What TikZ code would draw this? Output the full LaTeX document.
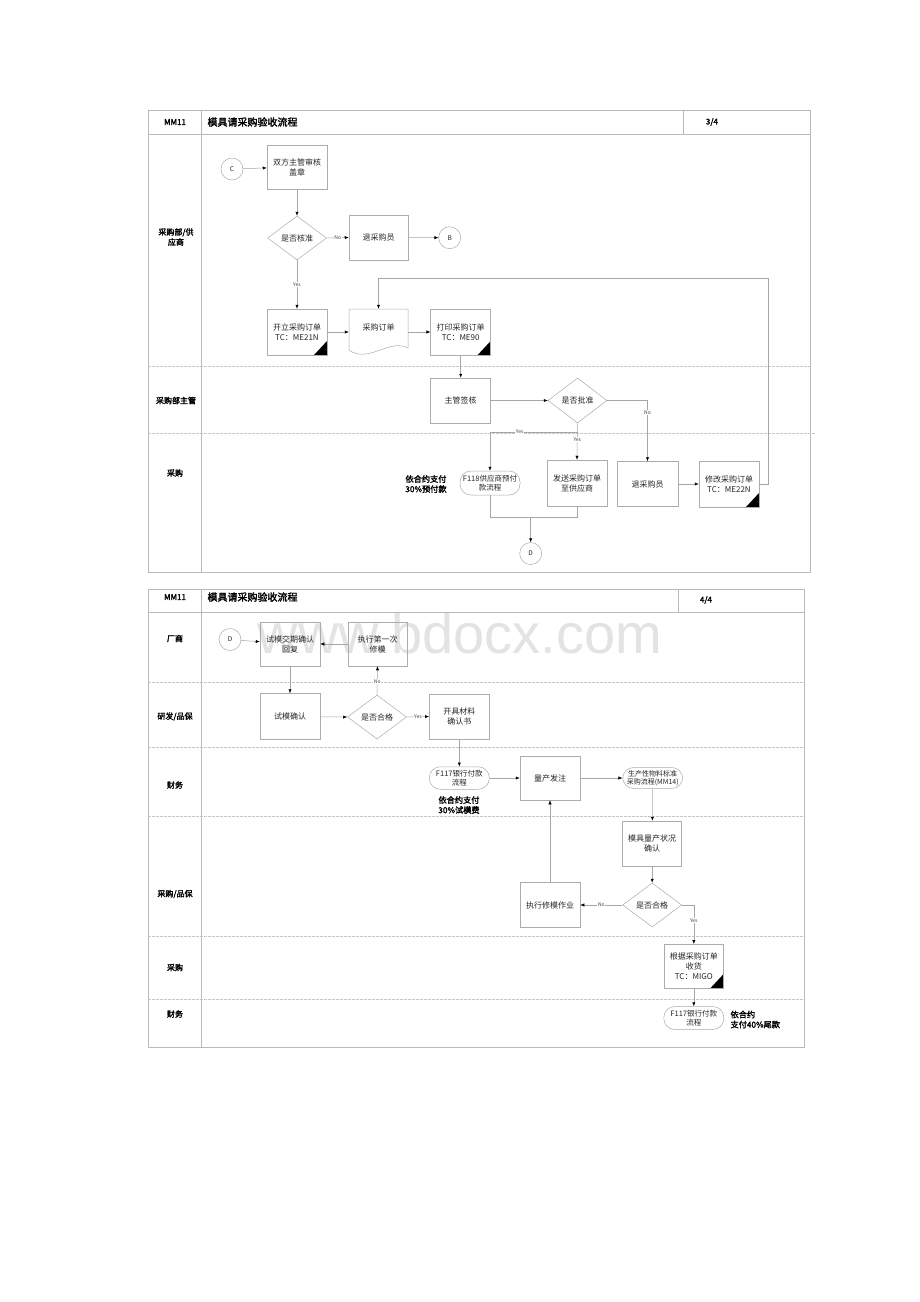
\documentclass[tikz,border=0pt]{standalone}
\usepackage{fontspec}
\newfontfamily\cjk{Noto Sans CJK SC}[AutoFakeBold=2]
\newfontfamily\wmfont{Liberation Sans}
\usetikzlibrary{arrows.meta,shapes.geometric}
\begin{document}
\begin{tikzpicture}[x=1pt,y=-1pt,
  frame/.style={draw=gray!55, line width=0.6pt},
  lane/.style={draw=gray!45, line width=0.6pt, dash pattern=on 3pt off 1pt},
  proc/.style={draw=gray!65, line width=0.5pt, minimum width=60pt, minimum height=44pt, inner sep=1pt, align=center, font=\cjk\fontsize{8}{10}\selectfont, text=black!85},
  sap/.style={path picture={\fill[black] (path picture bounding box.south east) -- ++(-13,0) -- ++(13,-14) -- cycle;}},
  dec/.style={diamond, aspect=1, draw=gray!65, line width=0.5pt, minimum width=59pt, minimum height=44pt, inner sep=0pt, font=\cjk\fontsize{8}{10}\selectfont, text=black!85},
  term/.style={rectangle, rounded corners=11pt, draw=gray!65, line width=0.5pt, minimum width=60pt, minimum height=23pt, inner sep=0.5pt, align=center, font=\cjk\fontsize{7.5}{9}\selectfont, text=black!85},
  conn/.style={circle, draw=gray!65, line width=0.5pt, minimum size=22pt, inner sep=0pt, font=\cjk\fontsize{6.5}{8}\selectfont, text=black!85},
  docnode/.style={minimum width=59pt, minimum height=46pt, inner sep=0pt},
  doctext/.style={font=\cjk\fontsize{8}{10}\selectfont, text=black!85},
  arr/.style={draw=gray!70, line width=0.5pt, -{Latex[length=4pt,width=3.2pt,color=black]}},
  ln/.style={draw=gray!70, line width=0.5pt},
  lab/.style={font=\cjk\fontsize{5}{6}\selectfont, fill=white, inner sep=0.6pt, text=black!75},
  lanelab/.style={font=\cjk\bfseries\fontsize{8}{10}\selectfont, align=center},
  headlab/.style={font=\cjk\bfseries\fontsize{8}{10}\selectfont},
  titlelab/.style={font=\cjk\bfseries\fontsize{10}{12}\selectfont, anchor=west},
  note/.style={font=\cjk\bfseries\fontsize{8.2}{10}\selectfont, align=center},
  wm/.style={font=\wmfont\fontsize{56}{60}\selectfont, text=gray!22, anchor=base}
]
\path[use as bounding box, fill=white] (0,0) rectangle (920,1302);

% watermark
\node[wm] (wmark) at (460,653) {www.bdocx.com};

% ================= top page frame =================
\draw[frame] (148,110) rectangle (810,572);
\draw[frame] (148,134) -- (810,134);
\draw[frame] (201,110) -- (201,572);
\draw[frame] (683,110) -- (683,134);
\draw[lane] (148,366) -- (810,366);
\draw[lane] (148,433) -- (815,433);

\node[headlab] (h1) at (175,122) {MM11};
\node[titlelab] (t1h) at (204,122) {模具请采购验收流程};
\node[headlab] (p1) at (712,122) {3/4};

\node[lanelab] (l1) at (176,237) {采购部/供\\应商};
\node[lanelab] (l2) at (176,400.5) {采购部主管};
\node[lanelab] (l3) at (175,473) {采购};

% nodes
\node[conn] (C) at (232,169) {C};
\node[proc] (b1) at (297,167) {双方主管审核\\盖章};
\node[dec] (d1) at (297,238) {是否核准};
\node[proc, minimum width=59pt, minimum height=45pt] (b2) at (378.5,237.5) {退采购员};
\node[conn] (B) at (449.7,237.7) {B};
\node[proc, sap, minimum height=46pt] (b3) at (297,332) {开立采购订单\\TC：ME21N};
\node[docnode] (doc) at (378.5,332) {};
\draw[draw=gray!65, line width=0.5pt] (349,350) -- (349,309) -- (408,309) -- (408,348)
   .. controls (390,338) and (368,364) .. (349,350);
\node[doctext] (doct) at (378.5,327) {采购订单};
\node[proc, sap, minimum height=46pt] (b4) at (460.7,332) {打印采购订单\\TC：ME90};
\node[proc, minimum height=45pt] (b5) at (460.7,400.5) {主管签核};
\node[dec, minimum height=45pt] (d2) at (577.5,400.5) {是否批准};
\node[term, minimum height=24pt] (f1) at (490,483) {F118供应商预付\\款流程};
\node[proc, minimum height=46pt] (b6) at (577,483) {发送采购订单\\至供应商};
\node[proc, minimum width=61pt, minimum height=45pt] (b7) at (647.5,484) {退采购员};
\node[proc, sap, minimum height=46pt] (b8) at (729,484) {修改采购订单\\TC：ME22N};
\node[conn] (D) at (530.7,553.5) {D};
\node[note] (n1) at (426,484) {依合约支付\\30\%预付款};

\coordinate (ret1) at (768,278);
\coordinate (split) at (577.5,432);
\coordinate (mergeL) at (490,517);
\coordinate (mergeR) at (577,517);
\coordinate (mergeM) at (530.7,517);

% connectors
\draw[arr] (C) -- (b1);
\draw[arr] (b1) -- (d1);
\draw[arr] (d1.east) -- node[lab] {No} (b2.west);
\draw[arr] (b2) -- (B);
\draw[arr] (d1.south) -- node[lab, pos=0.5] {Yes} (b3.north);
\draw[arr] (b3) -- (doc.west);
\draw[arr] (doc.east) -- (b4);
\draw[arr] (b4) -- (b5);
\draw[arr] (b5) -- (d2.west);
\draw[arr] (d2.east) -| node[lab, pos=0.6] {No} (b7.north);
\draw[arr] (d2.south) -- node[lab, pos=0.45] {Yes} (b6.north);
\draw[arr] (split) -| node[lab, pos=0.33] {Yes} (f1.north);
\draw[arr] (b7) -- (b8);
\draw[arr] (b8.east) -- (ret1 |- b8.east) -- (ret1) -- (ret1 -| doc.north) -- (doc.north);
\draw[ln] (f1.south) -- (mergeL) -- (mergeR) -- (b6.south);
\draw[arr] (mergeM) -- (D);

% ================= bottom page frame =================
\draw[frame] (148,589) rectangle (804,1047);
\draw[frame] (148,612) -- (804,612);
\draw[frame] (201,589) -- (201,1047);
\draw[frame] (678,589) -- (678,612);
\draw[lane] (148,682) -- (804,682);
\draw[lane] (148,747) -- (804,747);
\draw[lane] (148,816) -- (804,816);
\draw[lane] (148,936) -- (804,936);
\draw[lane] (148,999) -- (804,999);

\node[headlab] (h2) at (175,597) {MM11};
\node[titlelab] (t2h) at (204,597) {模具请采购验收流程};
\node[headlab] (p2) at (706,600) {4/4};

\node[lanelab] (m1) at (175,638.5) {厂商};
\node[lanelab] (m2) at (175,716.5) {研发/品保};
\node[lanelab] (m3) at (175,785) {财务};
\node[lanelab] (m4) at (175,894) {采购/品保};
\node[lanelab] (m5) at (175,967.5) {采购};
\node[lanelab] (m6) at (175,1014) {财务};

\node[conn] (D2) at (230,639.5) {D};
\node[proc] (c1) at (290,644) {试模交期确认\\回复};
\node[proc, minimum width=59pt] (c2) at (377.5,644) {执行第一次\\修模};
\node[proc, minimum height=46pt] (c3) at (290,716.5) {试模确认};
\node[dec] (d3) at (377,717) {是否合格};
\node[proc, minimum height=45pt] (c4) at (459.3,716.5) {开具材料\\确认书};
\node[term, minimum height=22.5pt] (f2) at (459.3,778) {F117银行付款\\流程};
\node[note] (n2) at (459,805) {依合约支付\\30\%试模费};
\node[proc] (c5) at (550,778) {量产发注};
\node[term, minimum height=21pt, font=\cjk\fontsize{7}{8.5}\selectfont] (f3) at (652.7,778) {生产性物料标准\\采购流程(MM14)};
\node[proc, minimum width=59pt, minimum height=45pt] (c6) at (652.2,843.5) {模具量产状况\\确认};
\node[dec] (d4) at (652.2,905) {是否合格};
\node[proc, minimum height=45pt] (c7) at (550,905) {执行修模作业};
\node[proc, sap, minimum width=59pt] (c8) at (693.8,966.3) {根据采购订单\\收货\\TC：MIGO};
\node[term] (f4) at (693.8,1018) {F117银行付款\\流程};
\node[note, align=left, anchor=west] (n3) at (727,1019.5) {依合约\\支付40\%尾款};

\draw[arr] (D2) -- (c1);
\draw[arr] (c2) -- (c1);
\draw[arr] (c1) -- (c3);
\draw[arr] (c3) -- (d3.west);
\draw[arr] (d3.north) -- node[lab, pos=0.45] {No} (c2.south);
\draw[arr] (d3.east) -- node[lab] {Yes} (c4.west);
\draw[arr] (c4) -- (f2);
\draw[arr] (f2) -- (c5);
\draw[arr] (c5) -- (f3);
\draw[arr] (f3) -- (c6);
\draw[arr] (c6) -- (d4.north);
\draw[arr] (d4.west) -- node[lab] {No} (c7.east);
\draw[arr] (c7) -- (c5);
\draw[arr] (d4.east) -| node[lab, pos=0.7] {Yes} (c8.north);
\draw[arr] (c8) -- (f4);
\end{tikzpicture}
\end{document}
